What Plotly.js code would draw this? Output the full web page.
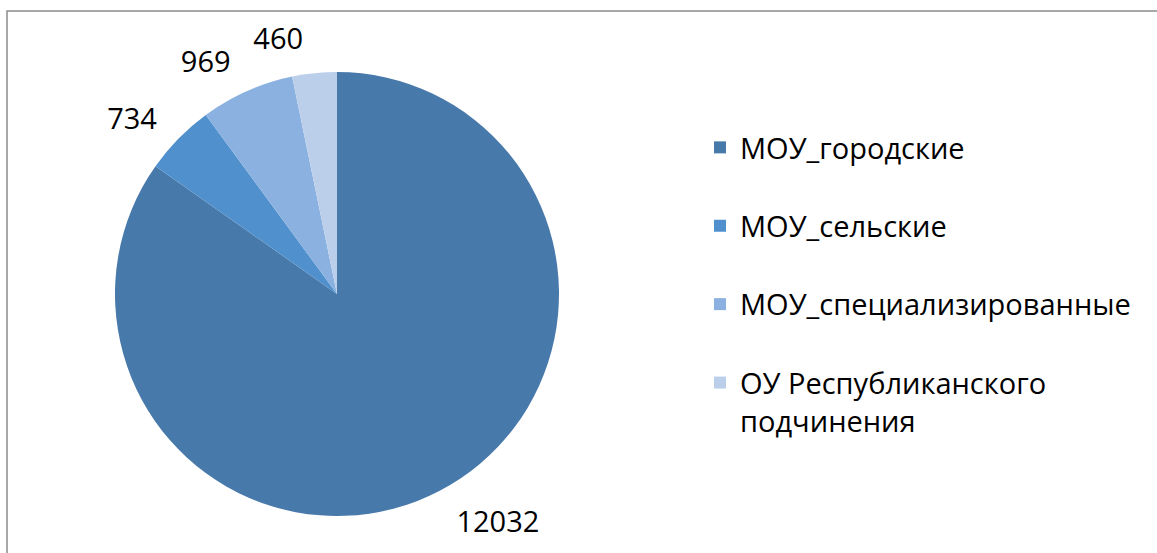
<!DOCTYPE html>
<html>
<head>
<meta charset="utf-8">
<script src="https://cdn.plot.ly/plotly-3.0.1.min.js"></script>
<style>html,body{margin:0;padding:0;background:#fff;}#chart{width:1157px;height:553px;}</style>
</head>
<body>
<div id="chart"></div>
<script>
const categories = ['МОУ_городские', 'МОУ_сельские', 'МОУ_специализированные', 'ОУ Республиканского<br>подчинения'];
const values = [12032, 734, 969, 460];
const colors = ['#4879ab', '#5090cc', '#8ab1df', '#bccfea'];

const W = 1157, H = 553;
const cx = 337, cy = 294, r = 222, rLabel = 238;

function dom(rad) {
  return {x: [(cx - rad) / W, (cx + rad) / W], y: [(H - cy - rad) / H, (H - cy + rad) / H]};
}

const legendLabels = categories.map(c => c.indexOf('<br>') >= 0 ? c : c + '<br> ');
const labelFont = {family: 'Open Sans, sans-serif', size: 29, color: '#000'};

const mainPie = {
  type: 'pie',
  labels: legendLabels,
  values: values,
  sort: false,
  direction: 'clockwise',
  rotation: 0,
  marker: {colors: colors, line: {width: 0}},
  textinfo: 'none',
  textposition: 'none',
  showlegend: true,
  hoverinfo: 'skip',
  domain: dom(r)
};

function labelPie(positions) {
  return {
    type: 'pie',
    labels: legendLabels,
    values: values,
    sort: false,
    direction: 'clockwise',
    rotation: 0,
    marker: {colors: values.map(() => 'rgba(0,0,0,0)'), line: {width: 0}},
    texttemplate: '%{value:d}',
    textposition: positions,
    outsidetextfont: labelFont,
    showlegend: false,
    hoverinfo: 'skip',
    domain: dom(rLabel)
  };
}

const traces = [
  mainPie,
  labelPie(['outside', 'outside', 'outside', 'none']),
  labelPie(['none', 'none', 'none', 'outside'])
];

const layout = {
  width: W, height: H,
  margin: {l: 0, r: 0, t: 0, b: 0},
  paper_bgcolor: '#fff',
  showlegend: true,
  legend: {
    x: 700 / W, y: 1 - 122 / H, xanchor: 'left', yanchor: 'top',
    font: {family: 'Open Sans, sans-serif', size: 29, color: '#000'},
    valign: 'top', bgcolor: 'rgba(0,0,0,0)'
  },
  shapes: [{
    type: 'rect', xref: 'paper', yref: 'paper',
    x0: 7 / W, x1: 1.01, y0: -0.01, y1: 1 - 11 / H,
    line: {color: '#8c8c8c', width: 1.5}
  }]
};

Plotly.newPlot('chart', traces, layout, {displayModeBar: false, staticPlot: true});
</script>
</body>
</html>
